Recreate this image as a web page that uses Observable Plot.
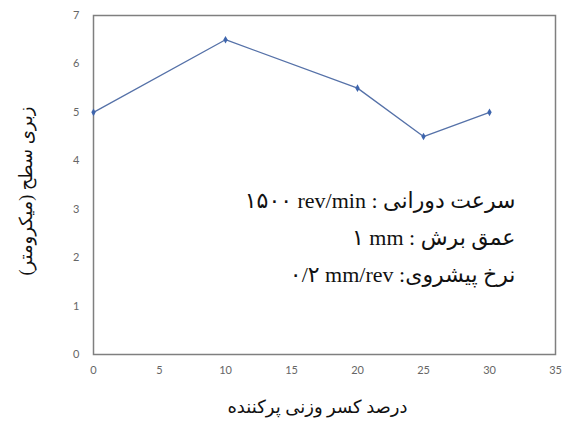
<!DOCTYPE html>
<html>
<head>
<meta charset="utf-8">
<script src="https://cdn.jsdelivr.net/npm/d3@7"></script>
<script src="https://cdn.jsdelivr.net/npm/@observablehq/plot@0.6"></script>
<style>
  html, body { margin: 0; padding: 0; background: #fff; }
</style>
</head>
<body>
<div id="chart"></div>
<script>
// Data
const fillerPercent = [0, 10, 20, 25, 30];
const roughness = [5, 6.5, 5.5, 4.5, 5];
const xTicks = [0, 5, 10, 15, 20, 25, 30, 35];
const yTicks = [0, 1, 2, 3, 4, 5, 6, 7];
const xTitle = "درصد کسر وزنی پرکننده";
const yTitle = "زبری سطح (میکرومتر)";
const annotationLines = [
  "۱۵۰۰ rev/min : سرعت دورانی",
  "۱ mm : عمق برش",
  "۰/۲ mm/rev :نرخ پیشروی"
];

const data = fillerPercent.map((x, i) => ({x, y: roughness[i]}));

const chart = Plot.plot({
  width: 566,
  height: 426,
  marginLeft: 93,
  marginRight: 11,
  marginTop: 15,
  marginBottom: 72,
  style: {background: "#fff", fontFamily: "Lato, sans-serif", fontSize: "11px", color: "#595959"},
  x: {domain: [0, 35], ticks: xTicks, label: null},
  y: {domain: [0, 7], ticks: yTicks, label: null},
  marks: [
    Plot.axisX({ticks: xTicks, tickFormat: d => String(d), tickSize: 0, tickPadding: 12, label: null, fill: "#666", fontSize: 11}),
    Plot.axisY({ticks: yTicks, tickFormat: d => String(d), tickSize: 0, tickPadding: 14, label: null, fill: "#666", fontSize: 11}),
    Plot.frame({stroke: "#7f7f7f", strokeWidth: 1.5}),
    Plot.line(data, {x: "x", y: "y", stroke: "#5571a8", strokeWidth: 1.3}),
    Plot.dot(data, {x: "x", y: "y", symbol: "diamond", r: 2.3, fill: "#3e65ad", stroke: "none"}),
    Plot.text([annotationLines.join("\n")], {
      frameAnchor: "top-right", textAnchor: "end", lineAnchor: "middle",
      dx: -40, dy: 218, lineHeight: 1.68,
      fontFamily: "'Liberation Serif', 'DejaVu Sans', serif", fontSize: 22, fill: "#111"
    }),
    Plot.text([xTitle], {
      frameAnchor: "bottom", dx: -7, dy: 58,
      fontFamily: "'Liberation Serif', 'DejaVu Sans', serif", fontSize: 18, fill: "#111"
    }),
    Plot.text([yTitle], {
      frameAnchor: "left", rotate: -90, textAnchor: "middle", dx: -67, dy: 6,
      fontFamily: "'Liberation Serif', 'DejaVu Sans', serif", fontSize: 18, fill: "#111"
    })
  ]
});
document.getElementById("chart").appendChild(chart);
</script>
</body>
</html>
